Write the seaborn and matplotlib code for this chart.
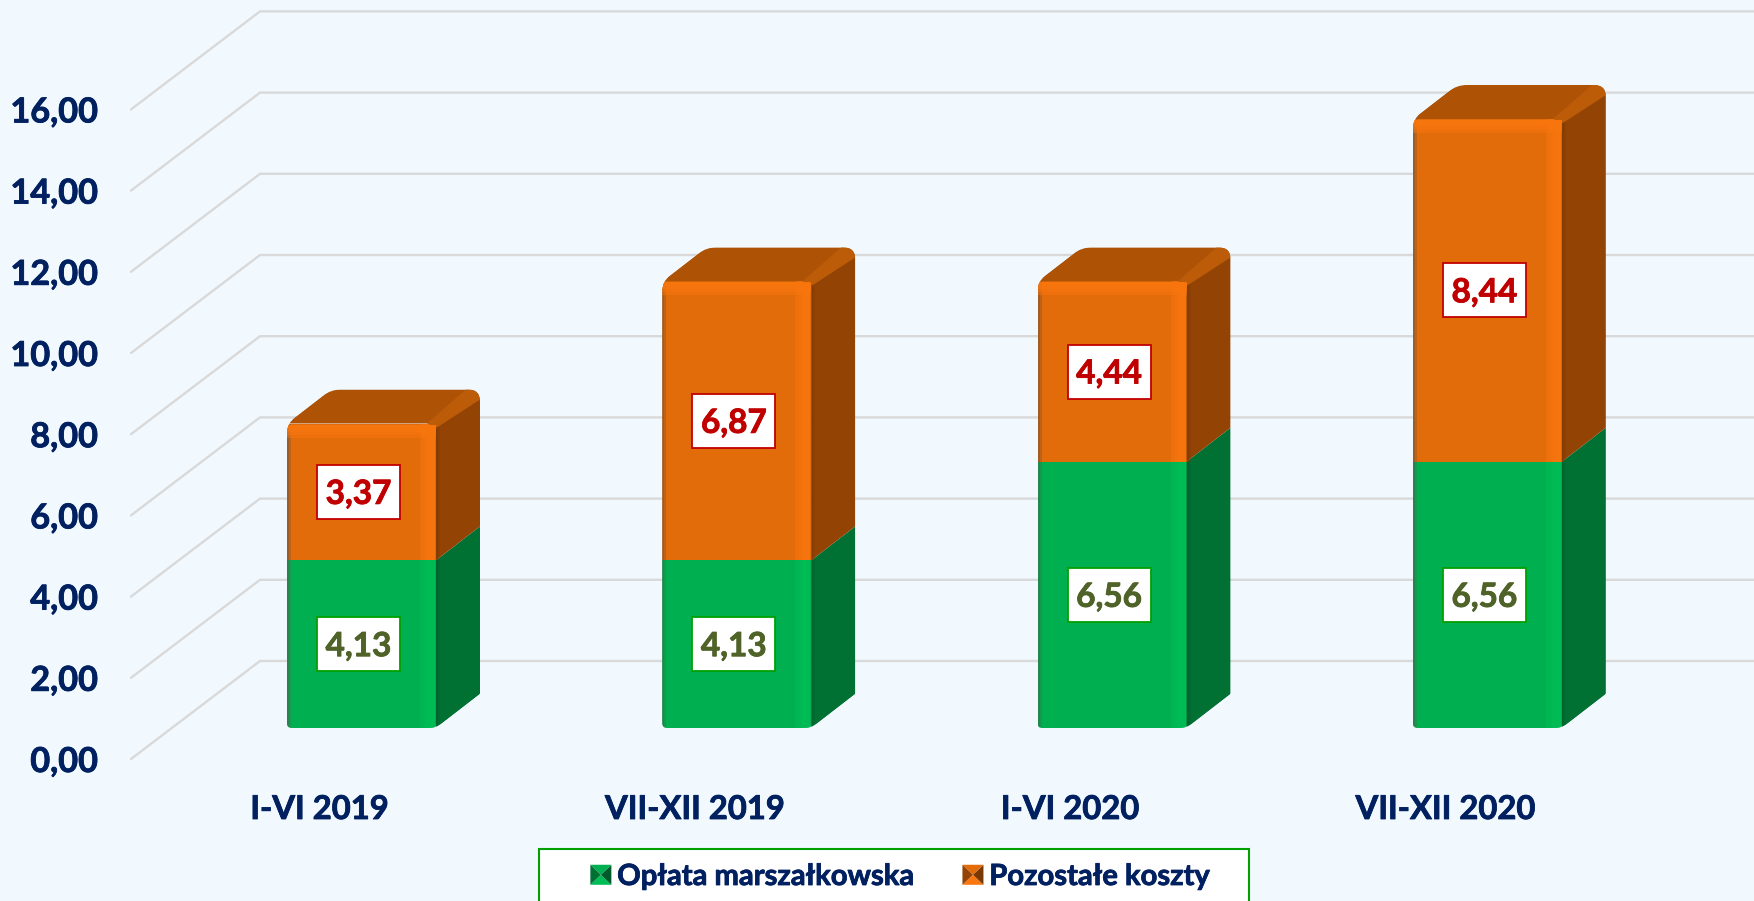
import numpy as np
import matplotlib
matplotlib.use("Agg")
import matplotlib.pyplot as plt
import matplotlib.patheffects as pe
import seaborn as sns
from matplotlib.path import Path
from matplotlib.patches import Polygon, Rectangle, Patch
from matplotlib.legend_handler import HandlerBase

# Data
periods = ["I-VI 2019", "VII-XII 2019", "I-VI 2020", "VII-XII 2020"]
oplata = [4.13, 4.13, 6.56, 6.56]
pozostale = [3.37, 6.87, 4.44, 8.44]
y_ticks = [0, 2, 4, 6, 8, 10, 12, 14, 16]
series_names = ["Opłata marszałkowska", "Pozostałe koszty"]

# Colours
BG = "#F1F9FF"
NAVY = "#002060"
GRID = "#D9D9D9"
GREEN = dict(front="#00B050", light="#00BE57", side="#007033", top="#00A048", dark="#2E7D4E",
             edge="#005A29", bevel="#008A40")
ORANGE = dict(front="#E36C0A", light="#FA770F", side="#934404", top="#AE5305", dark="#8E5A2C",
              edge="#7A3803", bevel="#BC5C09")

# Pixel layout of the "3D" box
W, H = 1754, 901
PX_X = 375.3  # pixels per category
PX_Y = 40.6  # pixels per unit of value
X0 = 361.5  # pixel centre of the first bar
Y0 = 728  # pixel height of value 0 on the bars
BAR_W = 149 / PX_X
DX, DY = 44 / PX_X, 34 / PX_Y
THICK = [pe.withStroke(linewidth=0.6)]

sns.set_theme(style="white")
plt.rcParams["font.family"] = ["Lato", "DejaVu Sans"]
plt.rcParams["font.weight"] = "bold"

fig = plt.figure(figsize=(W / 100, H / 100), dpi=100, facecolor=BG)
ax = fig.add_axes([0, 0, 1, 1])

# Front faces of the stacked bars
sns.barplot(x=periods, y=oplata, color=GREEN["front"], saturation=1, width=BAR_W,
            linewidth=0, zorder=3, ax=ax)
sns.barplot(x=periods, y=pozostale, bottom=oplata, color=ORANGE["front"], saturation=1,
            width=BAR_W, linewidth=0, zorder=3, ax=ax)
ax.set_xlim(-X0 / PX_X, (W - X0) / PX_X)
ax.set_ylim((Y0 - H) / PX_Y, Y0 / PX_Y)
ax.set_axis_off()
front_bars = list(ax.patches)

# Gridlines: back wall plus the diagonal on the side wall
grid_x0 = (131 - X0) / PX_X
grid_x1 = (260 - X0) / PX_X
grid_front = -31 / PX_Y
grid_back = 67 / PX_Y
for v in y_ticks:
    ax.plot([grid_x0, grid_x1, W / PX_X], [v + grid_front, v + grid_back, v + grid_back],
            color=GRID, lw=1.7, zorder=1, solid_joinstyle="miter")
    ax.text((98 - X0) / PX_X, v + grid_front, f"{v:.2f}".replace(".", ","), ha="right",
            va="center_baseline", color=NAVY, fontsize=24.7, fontweight="bold",
            path_effects=[pe.withStroke(linewidth=0.6, foreground=NAVY)])


def rounded_clip(points, radii):
    # Round the corners of a polygon in pixels, hand back a path in data coords
    pts = ax.transData.transform(points)
    verts, codes = [], []
    n = len(pts)
    for i in range(n):
        p, prev, nxt = pts[i], pts[i - 1], pts[(i + 1) % n]
        a = p + (prev - p) / np.linalg.norm(prev - p) * radii[i]
        b = p + (nxt - p) / np.linalg.norm(nxt - p) * radii[i]
        verts += [a, p, b]
        codes += [Path.MOVETO if i == 0 else Path.LINETO, Path.CURVE3, Path.CURVE3]
    verts.append(verts[0])
    codes.append(Path.CLOSEPOLY)
    return ax.transData.inverted().transform_path(Path(np.array(verts), codes))


def draw_segment(xc, low, high, pal, art, is_top):
    left, right = xc - BAR_W / 2, xc + BAR_W / 2
    side = [(right, low), (right + DX, low + DY), (right + DX, high + DY), (right, high)]
    art.append(ax.add_patch(Polygon(side, fc=pal["side"], ec="none", zorder=3)))
    # soft light band at the right of the front
    for w in (15, 12, 9, 6):
        art.append(ax.add_patch(Rectangle((right - (w + 1) / PX_X, low), w / PX_X, high - low,
                                          fc=pal["light"], ec="none", alpha=0.4, zorder=4)))
    # darker shade where front meets side, and along the left edge
    for w, a in ((4, 0.25), (2, 0.45)):
        art.append(ax.add_patch(Rectangle((right, low), w / PX_X, high - low, fc=pal["edge"],
                                          ec="none", alpha=a, zorder=4)))
        art.append(ax.add_patch(Rectangle((left, low), w / PX_X, high - low, fc=pal["dark"],
                                          ec="none", alpha=a + 0.2, zorder=4)))
    if is_top:
        top = [(left, high), (right, high), (right + DX, high + DY), (left + DX, high + DY)]
        art.append(ax.add_patch(Polygon(top, fc=pal["top"], ec="none", zorder=3)))
        for h in (13, 10, 7, 4):
            art.append(ax.add_patch(Rectangle((left, high - (h + 1) / PX_Y), BAR_W, h / PX_Y,
                                              fc=pal["light"], ec="none", alpha=0.45, zorder=5)))
        bevel = [(right - 9 / PX_X, high), (right + 1 / PX_X, high - 4 / PX_Y),
                 (right + DX, high + DY - 10 / PX_Y), (right + DX, high + DY),
                 (right + DX - 14 / PX_X, high + DY)]
        art.append(ax.add_patch(Polygon(bevel, fc=pal["bevel"], ec="none", zorder=4)))


def value_box(xc, yc, value, text_col, edge_col):
    ax.add_patch(Rectangle((xc - 41.5 / PX_X, yc - 27 / PX_Y), 83 / PX_X, 54 / PX_Y, fc="white",
                           ec=edge_col, lw=1.3, zorder=7))
    ax.text(xc, yc, f"{value:.2f}".replace(".", ","), ha="center", va="center_baseline",
            color=text_col, fontsize=24, fontweight="bold", zorder=8,
            path_effects=[pe.withStroke(linewidth=0.6, foreground=text_col)])


# Side and top faces, worked out from the same values
for i in range(len(periods)):
    low, mid, high = 0, oplata[i], oplata[i] + pozostale[i]
    left, right = i - BAR_W / 2, i + BAR_W / 2
    art = [front_bars[i], front_bars[i + len(periods)]]
    draw_segment(i, low, mid, GREEN, art, False)
    draw_segment(i, mid, high, ORANGE, art, True)
    outline = [(left, low), (right, low), (right + DX, low + DY), (right + DX, high + DY),
               (left + DX, high + DY), (left, high)]
    clip = rounded_clip(outline, [5, 8, 1, 12, 10, 10])
    for a in art:
        a.set_clip_path(clip, ax.transData)

    box_x = i - 3 / PX_X
    value_box(box_x, oplata[i] / 2, oplata[i], "#4F6228", "#00A000")
    value_box(box_x, mid + pozostale[i] / 2, pozostale[i], "#C00000", "#C00000")

    # Category label
    ax.text(i - 42 / PX_X, (Y0 - 807) / PX_Y, periods[i], ha="center", va="center_baseline",
            color=NAVY, fontsize=23.6, fontweight="bold",
            path_effects=[pe.withStroke(linewidth=0.6, foreground=NAVY)])


class BevelHandler(HandlerBase):
    # Small pyramid marker: lighter top and bottom, dark sides
    def create_artists(self, legend, orig, xd, yd, width, height, fontsize, trans):
        is_green = orig.get_facecolor()[:3] == matplotlib.colors.to_rgb(GREEN["front"])
        pal = GREEN if is_green else ORANGE
        x0, y0 = -xd, -yd
        c = (x0 + width / 2, y0 + height / 2)
        a, b, d, e = (x0, y0), (x0 + width, y0), (x0 + width, y0 + height), (x0, y0 + height)
        faces = [((a, b, c), pal["light"]), ((b, d, c), pal["edge"]),
                 ((d, e, c), pal["front"]), ((e, a, c), pal["side"])]
        return [Polygon(t, fc=col, ec="none", transform=trans) for t, col in faces]


# Legend box runs off the bottom of the picture
ax.add_patch(Rectangle(((539 - X0) / PX_X, (Y0 - H - 5) / PX_Y), 710 / PX_X, (H + 5 - 849) / PX_Y,
                       fc="white", ec="#00A000", lw=1.5, zorder=6))
handles = [Patch(fc=GREEN["front"]), Patch(fc=ORANGE["front"])]
leg = ax.legend(handles, series_names, ncol=2, frameon=False, fontsize=21,
                handler_map={Patch: BevelHandler()}, handlelength=0.72, handleheight=0.68,
                handletextpad=0.2, columnspacing=1.65, loc="center",
                bbox_to_anchor=(900 / W, 1 - 877 / H), labelcolor=NAVY)
leg.set_zorder(9)
for t in leg.get_texts():
    t.set_path_effects([pe.withStroke(linewidth=0.6, foreground=NAVY)])

fig.savefig("out.png", dpi=100, facecolor=BG)
